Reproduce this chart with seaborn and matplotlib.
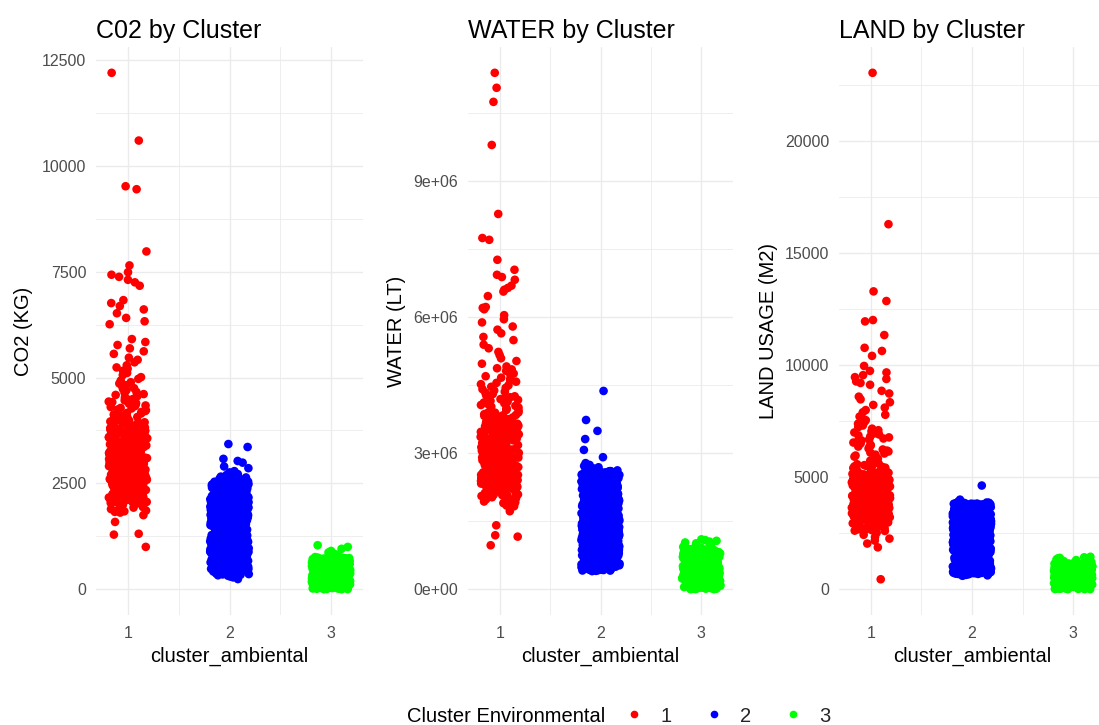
import numpy as np
import pandas as pd
import matplotlib
matplotlib.use("Agg")
import matplotlib.pyplot as plt
from matplotlib.ticker import FuncFormatter, MultipleLocator, FixedLocator
from matplotlib.lines import Line2D
import seaborn as sns

# ---------------- data (read/estimated from the reference) ----------------
clusters = ["1", "2", "3"]
cluster_colors = ["#FF0000", "#0000FF", "#00FF00"]
legend_title = "Cluster Environmental"
x_label = "cluster_ambiental"
panel_titles = ["C02 by Cluster", "WATER by Cluster", "LAND by Cluster"]
y_labels = ["CO2 (KG)", "WATER (LT)", "LAND USAGE (M2)"]

# CO2 (kg)
co2_c1 = [12200, 10600, 9520, 9450, 7980, 7650, 7490, 7430, 7380, 7310, 7250, 7170,
          6830, 6760, 6690, 6610, 6520, 6410, 6330, 6260,
          5910, 5840, 5770, 5690, 5620, 5560, 5470, 5420, 5360, 5290, 5240, 5210, 5160, 5110, 5060, 5010,
          4970, 4930, 4890, 4860, 4820, 4790, 4750, 4730, 4700, 4660, 4640, 4610, 4590, 4560, 4530, 4510,
          4496, 4475, 4461, 4433, 4419, 4398, 4386, 4357, 4341, 4326, 4304, 4283, 4271, 4246, 4228, 4209,
          4188, 4164, 4152, 4126, 4111, 4087, 4069, 4051, 4028, 4012,
          3994, 3983, 3966, 3955, 3941, 3929, 3912, 3903, 3886, 3873, 3861, 3846, 3832, 3821, 3807, 3795,
          3779, 3768, 3754, 3740, 3731, 3714, 3703, 3687, 3676, 3662, 3648, 3635, 3623, 3609, 3598, 3582,
          3573, 3557, 3546, 3539, 3526, 3518, 3507, 3501,
          3493, 3482, 3474, 3461, 3456, 3445, 3437, 3423, 3419, 3406, 3397, 3388, 3376, 3369, 3358, 3349,
          3336, 3330, 3317, 3308, 3296, 3290, 3277, 3267, 3258, 3249, 3236, 3227, 3218, 3209, 3197, 3188,
          3178, 3169, 3157, 3148, 3138, 3129, 3117, 3108, 3098, 3087, 3077, 3068, 3057, 3049, 3037, 3026,
          3017, 3006,
          2997, 2986, 2978, 2969, 2960, 2953, 2942, 2935, 2925, 2918, 2907, 2900, 2890, 2883, 2873, 2864,
          2855, 2848, 2837, 2830, 2820, 2813, 2802, 2795, 2785, 2778, 2768, 2759, 2750, 2743, 2732, 2725,
          2715, 2708, 2697, 2690, 2680, 2673, 2663, 2654, 2645, 2638, 2627, 2620, 2610, 2603, 2592, 2585,
          2575, 2568, 2558, 2549, 2540, 2531, 2515,
          2494, 2480, 2473, 2458, 2449, 2436, 2427, 2412, 2403, 2390, 2380, 2367, 2357, 2343, 2334, 2320,
          2310, 2297, 2288, 2273, 2264, 2250, 2240, 2227, 2217, 2203, 2194, 2180, 2170, 2157, 2147, 2133,
          2123, 2110, 2100, 2086, 2076, 2063, 2053, 2040, 2030, 2011,
          1992, 1975, 1959, 1940, 1928, 1908, 1894, 1875, 1859, 1841, 1827, 1810,
          1750, 1590, 1310, 1290, 1000,
          3985, 3962, 3944, 3921, 3905, 3884, 3863, 3846, 3822, 3804, 3786, 3763, 3745, 3724, 3702, 3688,
          3665, 3643, 3627, 3604, 3585, 3566, 3544, 3527, 3505, 3486, 3464, 3447, 3425, 3406, 3387, 3365,
          3346, 3326, 3305, 3288, 3266, 3245, 3228, 3206, 3185, 3167, 3146, 3128, 3104, 3087, 3066, 3048,
          3025, 3006, 2987, 2966, 2948, 2925, 2907, 2886, 2868, 2847, 2826, 2808, 2785, 2768, 2746, 2727,
          2706, 2688, 2665, 2647, 2628, 2605, 2588, 2565, 2548, 2527, 2506, 2487, 2466, 2448, 2425, 2406,
          2386, 2368, 2345, 2326, 2307, 2288, 2265, 2247, 2226, 2207, 2185, 2166, 2147, 2125, 2108, 2086,
          2067, 2046, 2028, 2009]
co2_c2 = [3430, 3360, 3080, 3030, 2990, 2900, 2860, 2790, 2760, 2720, 2700, 2680, 2660, 2640, 2630,
          2610, 2600, 2590, 2580, 2575, 2565,
          2552, 2544, 2539, 2531, 2526, 2518, 2511, 2505, 2497, 2492, 2483, 2478, 2470, 2464, 2459, 2450,
          2446, 2437, 2431, 2424, 2418, 2410, 2405, 2397, 2392, 2384, 2377, 2371, 2363, 2358, 2351, 2344,
          2339, 2330, 2325, 2317, 2311, 2305, 2297, 2290, 2285, 2277, 2272, 2263, 2258, 2250, 2243, 2238,
          2229, 2224, 2216, 2210, 2203, 2196, 2191, 2183, 2177, 2170, 2164, 2157, 2151, 2143, 2138, 2130,
          2124, 2117, 2110, 2104, 2097, 2091, 2083, 2078, 2070, 2063, 2057, 2050, 2044, 2037, 2031, 2023,
          2018, 2010, 2004, 1997, 1990, 1984, 1977, 1971, 1963, 1958, 1950, 1943, 1937, 1930, 1924, 1916,
          1911, 1903, 1897, 1890, 1884, 1876, 1871, 1863, 1857, 1850, 1844, 1836, 1831, 1823, 1817, 1810,
          1803, 1797, 1790, 1784, 1776, 1771, 1763, 1757, 1750, 1743, 1737, 1730, 1724, 1716, 1711, 1703,
          1696, 1690, 1683, 1677, 1670, 1663, 1657, 1650, 1644, 1636, 1631, 1623, 1617, 1610, 1603, 1597,
          1589, 1584, 1576, 1570, 1563, 1556, 1550, 1543, 1537, 1529, 1524, 1516, 1510, 1503, 1496, 1490,
          1483, 1477, 1469, 1464, 1456, 1450, 1443, 1436, 1430, 1423, 1417, 1409, 1404, 1396, 1390, 1383,
          1376, 1370, 1362, 1357, 1349, 1343, 1336, 1330, 1322, 1316, 1310, 1302, 1297, 1289, 1283, 1276,
          1270, 1262, 1256, 1249, 1242, 1236, 1229, 1223, 1215, 1210, 1202, 1196, 1189, 1182, 1176, 1169,
          1163, 1155, 1150, 1142, 1136, 1129, 1122, 1116, 1108, 1103, 1095, 1089, 1082, 1076, 1068, 1063,
          1055, 1049, 1042, 1035, 1029, 1021, 1016, 1008, 1002, 995, 988, 982, 974, 969, 961, 955,
          948, 942, 934, 929, 921, 915, 908, 901, 895, 887, 882, 874, 868, 861, 855, 848,
          841, 835, 827, 822, 814, 808, 801, 794, 788, 780, 775, 767, 761, 754, 748, 741,
          734, 728, 720, 715, 707, 701, 694, 688, 681, 674, 668, 660, 655, 647, 641, 634,
          627, 621, 613, 608, 600, 594, 587, 581, 574, 567, 561, 553, 548, 540, 534, 527,
          520, 514, 506, 501, 493, 487, 480, 474, 467, 460, 454, 446, 441, 433, 427, 420,
          414, 407, 400, 394, 388, 380, 372, 365, 358, 350, 341, 330, 318, 300, 280, 240,
          2555, 2549, 2542, 2536, 2529, 2523, 2516, 2510, 2503, 2497, 2490, 2484, 2477, 2471, 2464, 2458,
          2451, 2445, 2438, 2432, 2425, 2419, 2412, 2406, 2399, 2393, 2386, 2380, 2373, 2367, 2360, 2354,
          2347, 2341, 2334, 2328, 2321, 2315, 2308, 2302, 2295, 2289, 2282, 2276, 2269, 2263, 2256, 2250,
          2243, 2237, 2230, 2224, 2217, 2211, 2204, 2198, 2191, 2185, 2178, 2172, 2165, 2159, 2152, 2146,
          2139, 2133, 2126, 2120, 2113, 2107, 2100, 2094, 2087, 2081, 2074, 2068, 2061, 2055, 2048, 2042,
          2035, 2029, 2022, 2016, 2009, 2003, 1996, 1990, 1983, 1977, 1970, 1964, 1957, 1951, 1944, 1938,
          1931, 1925, 1918, 1912, 1905, 1899, 1892, 1886, 1879, 1873, 1866, 1860, 1853, 1847, 1840, 1834,
          1827, 1821, 1814, 1808, 1801, 1795, 1788, 1782, 1775, 1769, 1762, 1756, 1749, 1743, 1736, 1730,
          1723, 1717, 1710, 1704, 1697, 1691, 1684, 1678, 1671, 1665, 1658, 1652, 1645, 1639, 1632, 1626,
          1619, 1613, 1606, 1600, 1593, 1587, 1580, 1574, 1567, 1561, 1554, 1548, 1541, 1535, 1528, 1522,
          1515, 1509, 1502, 1496, 1489, 1483, 1476, 1470, 1463, 1457, 1450, 1444, 1437, 1431, 1424, 1418,
          1411, 1405, 1398, 1392, 1385, 1379, 1372, 1366, 1359, 1353, 1346, 1340, 1333, 1327, 1320, 1314,
          1307, 1301, 1294, 1288, 1281, 1275, 1268, 1262, 1255, 1249, 1242, 1236, 1229, 1223, 1216, 1210,
          1203, 1197, 1190, 1184, 1177, 1171, 1164, 1158, 1151, 1145, 1138, 1132, 1125, 1119, 1112, 1106,
          1099, 1093, 1086, 1080, 1073, 1067, 1060, 1054, 1047, 1041, 1034, 1028, 1021, 1015, 1008, 1002,
          995, 989, 982, 976, 969, 963, 956, 950, 943, 937, 930, 924, 917, 911, 904, 898,
          891, 885, 878, 872, 865, 859, 852, 846, 839, 833, 826, 820, 813, 807, 800, 794,
          787, 781, 774, 768, 761, 755, 748, 742, 735, 729, 722, 716, 709, 703, 696, 690,
          683, 677, 670, 664, 657, 651, 644, 638, 631, 625, 618, 612, 605, 599, 592, 586,
          579, 573, 566, 560, 553, 547, 540, 534, 527, 521, 514, 508, 501, 495, 488, 482,
          475, 469, 462, 456, 449, 443, 436, 430, 423, 417, 410]
co2_c3 = [1040, 1000, 955, 905, 870, 842, 815, 792, 771, 760,
          751, 746, 740, 736, 731, 725, 721, 716, 710, 706, 700, 695, 690, 686, 680, 676, 671, 665, 661, 655,
          650, 646, 641, 635, 631, 626, 620, 616, 611, 605, 601, 596, 590, 586, 581, 575, 571, 566, 560, 556,
          551, 545, 541, 536, 530, 526, 521, 515, 511, 506, 500, 496, 491, 485, 481, 476, 470, 466, 461, 455,
          450, 446, 441, 435, 431, 426, 420, 416, 411, 405, 401, 396, 390, 386, 381, 375, 371, 366, 360, 356,
          351, 345, 341, 336, 330, 326, 321, 315, 311, 306, 300, 296, 291, 285, 281, 276, 270, 266, 261, 255,
          250, 246, 241, 235, 231, 226, 220, 216, 211, 205, 201, 196, 190, 186, 181, 175, 171, 166, 160, 156,
          151, 145, 141, 136, 130, 126, 121, 115, 111, 106, 100, 96, 91, 85, 81, 76, 70, 66, 61, 55,
          50, 46, 41, 35, 31, 26, 20, 16, 11, 6, 3, 1,
          748, 743, 738, 733, 728, 723, 718, 713, 708, 703, 698, 693, 688, 683, 678, 673, 668, 663, 658, 653,
          648, 643, 638, 633, 628, 623, 618, 613, 608, 603, 598, 593, 588, 583, 578, 573, 568, 563, 558, 553,
          548, 543, 538, 533, 528, 523, 518, 513, 508, 503, 498, 493, 488, 483, 478, 473, 468, 463, 458, 453,
          448, 443, 438, 433, 428, 423, 418, 413, 408, 403, 398, 393, 388, 383, 378, 373, 368, 363, 358, 353,
          348, 343, 338, 333, 328, 323, 318, 313, 308, 303, 298, 293, 288, 283, 278, 273, 268, 263, 258, 253,
          248, 243, 238, 233, 228, 223, 218, 213, 208, 203, 198, 193, 188, 183, 178, 173, 168, 163, 158, 153,
          148, 143, 138, 133, 128, 123, 118, 113, 108, 103, 98, 93, 88, 83, 78, 73, 68, 63, 58, 53,
          48, 43, 38, 33, 28, 23, 18, 13, 8, 3]

# WATER (thousands of litres; converted to litres below)
water_c1_k = [11380, 11050, 10740, 9790, 8270, 7740, 7700, 7260, 7040, 6930, 6880, 6820, 6690, 6640,
              6600, 6560, 6460, 6220, 6200, 6170, 6040, 5950, 5880, 5790, 5720, 5640, 5560, 5490, 5390,
              5310, 5230, 5160, 5090, 5030, 4970, 4910,
              4870, 4845, 4812, 4786, 4753, 4721, 4694, 4662, 4633, 4601, 4574, 4548, 4519, 4493, 4462,
              4438, 4409, 4381, 4352, 4329, 4301, 4277, 4252, 4231, 4208,
              4190, 4173, 4151, 4134, 4116, 4097, 4080, 4061, 4042, 4024, 4006, 3987, 3968, 3951, 3933,
              3913, 3895, 3878, 3857, 3841, 3820, 3804, 3784, 3767, 3747, 3730, 3711,
              3696, 3683, 3670, 3660, 3646, 3636, 3622, 3612, 3598, 3588, 3574, 3564, 3550, 3540, 3526,
              3516, 3502, 3492, 3478, 3468, 3454, 3444, 3430, 3420, 3406, 3396, 3382, 3372, 3358, 3348,
              3334, 3324, 3310, 3300, 3286, 3276, 3262, 3252, 3238, 3228, 3214, 3204,
              3195, 3184, 3177, 3166, 3159, 3148, 3141, 3130, 3123, 3112, 3105, 3094, 3087, 3076, 3069,
              3058, 3051, 3040, 3033, 3022, 3015, 3004, 2997, 2986, 2979, 2968, 2961, 2950, 2943, 2932,
              2925, 2914, 2907, 2896, 2889, 2878, 2871, 2860, 2853, 2842, 2835, 2824, 2817, 2806, 2799,
              2788, 2781, 2770, 2763, 2752, 2745, 2734, 2727, 2716, 2709,
              2698, 2690, 2679, 2671, 2660, 2652, 2641, 2633, 2622, 2614, 2603, 2595, 2584, 2576, 2565,
              2557, 2546, 2538, 2527, 2519, 2508, 2500, 2489, 2481, 2470, 2462, 2451, 2443, 2432, 2424,
              2413, 2405, 2394, 2386, 2375, 2367, 2356, 2348, 2337, 2329, 2318, 2310, 2299, 2291, 2280,
              2272, 2261, 2253, 2242, 2234, 2223, 2212,
              2195, 2179, 2160, 2144, 2125, 2109, 2090, 2074, 2055, 2039, 2020, 2004, 1985, 1969, 1950,
              1934, 1915, 1899, 1880, 1864, 1845, 1829,
              1720, 1410, 1190, 1160, 970,
              3892, 3871, 3855, 3833, 3816, 3795, 3776, 3757, 3738, 3719, 3700, 3681, 3662, 3643, 3624, 3605,
              3586, 3567, 3548, 3529, 3510, 3491, 3472, 3453, 3434, 3415, 3396, 3377, 3358, 3339, 3320, 3301,
              3282, 3263, 3244, 3225, 3206, 3187, 3168, 3149, 3130, 3111, 3092, 3073, 3054, 3035, 3016, 2997,
              2978, 2959, 2940, 2921, 2902, 2883, 2864, 2845, 2826, 2807, 2788, 2769, 2750, 2731, 2712, 2693,
              2674, 2655, 2636, 2617, 2598, 2579, 2560, 2541, 2522, 2503, 2484, 2465, 2446, 2427, 2408, 2389,
              2370, 2351, 2332, 2313, 2294, 2275, 2256, 2237, 2218, 2199, 2180, 2161, 2142, 2123, 2104, 2085,
              2066, 2047, 2028, 2009]
water_c2_k = [4370, 3730, 3490, 3310, 3070, 2910, 2780, 2740, 2718, 2702, 2688, 2676, 2664, 2655, 2646,
              2637, 2629, 2620, 2613, 2607,
              2600, 2593, 2587, 2582, 2574, 2567, 2561, 2556, 2548, 2541, 2535, 2530, 2522, 2515, 2509, 2504,
              2496, 2489, 2483, 2478, 2470, 2463, 2457, 2452, 2444, 2437, 2431, 2426, 2418, 2411, 2405, 2400,
              2392, 2385, 2379, 2374, 2366, 2359, 2353, 2348, 2340, 2333, 2327, 2322, 2314, 2307, 2301, 2296,
              2288, 2281, 2275, 2270, 2262, 2255, 2249, 2244, 2236, 2229, 2223, 2218, 2210, 2203, 2197, 2192,
              2184, 2177, 2171, 2166, 2158, 2151, 2145, 2140, 2132, 2125, 2119, 2114, 2106, 2099, 2093, 2088,
              2080, 2073, 2067, 2062, 2054, 2047, 2041, 2036, 2028, 2021, 2015, 2010, 2002, 1995, 1989, 1984,
              1976, 1969, 1963, 1958, 1950, 1943, 1937, 1932, 1924, 1917, 1911, 1906, 1898, 1891, 1885, 1880,
              1872, 1865, 1859, 1854, 1846, 1839, 1833, 1828, 1820, 1813, 1807, 1802, 1794, 1787, 1781, 1776,
              1768, 1761, 1755, 1750, 1742, 1735, 1729, 1724, 1716, 1709, 1703, 1698, 1690, 1683, 1677, 1672,
              1664, 1657, 1651, 1646, 1638, 1631, 1625, 1620, 1612, 1605, 1599, 1594, 1586, 1579, 1573, 1568,
              1560, 1553, 1547, 1542, 1534, 1527, 1521, 1516, 1508, 1501, 1495, 1490, 1482, 1475, 1469, 1464,
              1456, 1449, 1443, 1438, 1430, 1423, 1417, 1412, 1404, 1397, 1391, 1386, 1378, 1371, 1365, 1360,
              1352, 1345, 1339, 1334, 1326, 1319, 1313, 1308, 1300, 1293, 1287, 1282, 1274, 1267, 1261, 1256,
              1248, 1241, 1235, 1230, 1222, 1215, 1209, 1204, 1196, 1189, 1183, 1178, 1170, 1163, 1157, 1152,
              1144, 1137, 1131, 1126, 1118, 1111, 1105, 1100, 1092, 1085, 1079, 1074, 1066, 1059, 1053, 1048,
              1040, 1033, 1027, 1022, 1014, 1007, 1001, 996, 988, 981, 975, 970, 962, 955, 949, 944,
              936, 929, 923, 918, 910, 903, 897, 892, 884, 877, 871, 866, 858, 851, 845, 840,
              832, 825, 819, 814, 806, 799, 793, 788, 780, 773, 767, 762, 754, 747, 741, 736,
              728, 721, 715, 710, 702, 695, 689, 684, 676, 669, 663, 658, 650, 643, 637, 632,
              624, 617, 611, 606, 598, 591, 585, 580, 572, 565, 559, 554, 546, 539, 533, 528,
              520, 513, 507, 502, 494, 487, 481, 476, 468, 461, 455, 450, 442, 435, 429, 424,
              418, 412, 406, 400,
              2604, 2598, 2591, 2585, 2578, 2572, 2565, 2559, 2552, 2546, 2539, 2533, 2526, 2520, 2513, 2507,
              2500, 2494, 2487, 2481, 2474, 2468, 2461, 2455, 2448, 2442, 2435, 2429, 2422, 2416, 2409, 2403,
              2396, 2390, 2383, 2377, 2370, 2364, 2357, 2351, 2344, 2338, 2331, 2325, 2318, 2312, 2305, 2299,
              2292, 2286, 2279, 2273, 2266, 2260, 2253, 2247, 2240, 2234, 2227, 2221, 2214, 2208, 2201, 2195,
              2188, 2182, 2175, 2169, 2162, 2156, 2149, 2143, 2136, 2130, 2123, 2117, 2110, 2104, 2097, 2091,
              2084, 2078, 2071, 2065, 2058, 2052, 2045, 2039, 2032, 2026, 2019, 2013, 2006, 2000, 1993, 1987,
              1980, 1974, 1967, 1961, 1954, 1948, 1941, 1935, 1928, 1922, 1915, 1909, 1902, 1896, 1889, 1883,
              1876, 1870, 1863, 1857, 1850, 1844, 1837, 1831, 1824, 1818, 1811, 1805, 1798, 1792, 1785, 1779,
              1772, 1766, 1759, 1753, 1746, 1740, 1733, 1727, 1720, 1714, 1707, 1701, 1694, 1688, 1681, 1675,
              1668, 1662, 1655, 1649, 1642, 1636, 1629, 1623, 1616, 1610, 1603, 1597, 1590, 1584, 1577, 1571,
              1564, 1558, 1551, 1545, 1538, 1532, 1525, 1519, 1512, 1506, 1499, 1493, 1486, 1480, 1473, 1467,
              1460, 1454, 1447, 1441, 1434, 1428, 1421, 1415, 1408, 1402, 1395, 1389, 1382, 1376, 1369, 1363,
              1356, 1350, 1343, 1337, 1330, 1324, 1317, 1311, 1304, 1298, 1291, 1285, 1278, 1272, 1265, 1259,
              1252, 1246, 1239, 1233, 1226, 1220, 1213, 1207, 1200, 1194, 1187, 1181, 1174, 1168, 1161, 1155,
              1148, 1142, 1135, 1129, 1122, 1116, 1109, 1103, 1096, 1090, 1083, 1077, 1070, 1064, 1057, 1051,
              1044, 1038, 1031, 1025, 1018, 1012, 1005, 999, 992, 986, 979, 973, 966, 960, 953, 947,
              940, 934, 927, 921, 914, 908, 901, 895, 888, 882, 875, 869, 862, 856, 849, 843,
              836, 830, 823, 817, 810, 804, 797, 791, 784, 778, 771, 765, 758, 752, 745, 739,
              732, 726, 719, 713, 706, 700, 693, 687, 680, 674, 667, 661, 654, 648, 641, 635,
              628, 622, 615, 609, 602, 596, 589, 583, 576, 570, 563, 557, 550, 544, 537, 531,
              524, 518, 511, 505, 498, 492, 485, 479, 472, 466, 459, 453, 446, 440, 433, 427,
              420, 414]
water_c3_k = [1100, 1085, 1068, 1050, 1031, 1012, 990, 972, 951, 933, 916,
              900, 894, 889, 882, 876, 871, 864, 858, 853, 846, 840, 835, 828, 822, 817, 810, 804, 799, 792, 786,
              780, 774, 769, 762, 756, 751, 744, 738, 733, 726, 720, 715, 708, 702, 697, 690, 684, 679, 672, 666,
              660, 654, 649, 642, 636, 631, 624, 618, 613, 606, 600, 595, 588, 582, 577, 570, 564, 559, 552, 546,
              540, 534, 529, 522, 516, 511, 504, 498, 493, 486, 480, 475, 468, 462, 457, 450, 444, 439, 432, 426,
              420, 414, 409, 402, 396, 391, 384, 378, 373, 366, 360, 355, 348, 342, 337, 330, 324, 319, 312, 306,
              300, 294, 289, 282, 276, 271, 264, 258, 253, 246, 240, 235, 228, 222, 217, 210, 204, 199, 192, 186,
              180, 174, 169, 162, 156, 151, 144, 138, 133, 126, 120, 115, 108, 102, 97, 90, 84, 79, 72, 66,
              60, 54, 49, 42, 36, 31, 24, 18, 13, 6, 2,
              897, 891, 885, 879, 873, 867, 861, 855, 849, 843, 837, 831, 825, 819, 813, 807, 801, 795, 789, 783,
              777, 771, 765, 759, 753, 747, 741, 735, 729, 723, 717, 711, 705, 699, 693, 687, 681, 675, 669, 663,
              657, 651, 645, 639, 633, 627, 621, 615, 609, 603, 597, 591, 585, 579, 573, 567, 561, 555, 549, 543,
              537, 531, 525, 519, 513, 507, 501, 495, 489, 483, 477, 471, 465, 459, 453, 447, 441, 435, 429, 423,
              417, 411, 405, 399, 393, 387, 381, 375, 369, 363, 357, 351, 345, 339, 333, 327, 321, 315, 309, 303,
              297, 291, 285, 279, 273, 267, 261, 255, 249, 243, 237, 231, 225, 219, 213, 207, 201, 195, 189, 183,
              177, 171, 165, 159, 153, 147, 141, 135, 129, 123, 117, 111, 105, 99, 93, 87, 81, 75, 69, 63,
              57, 51, 45, 39, 33, 27, 21, 15, 9, 3]

# LAND USAGE (m2)
land_c1 = [23060, 16300, 13300, 12870, 12020, 11960, 11350, 10780, 10640, 10420, 9970, 9750, 9680,
           9560, 9470, 9390, 9280, 9210, 9130, 8860, 8740, 8600, 8480, 8350, 8230, 8110, 8000, 7900,
           7790, 7710, 7630, 7550, 7470, 7390, 7310, 7240, 7170, 7100,
           7050, 7000, 6960, 6910, 6870, 6820, 6780, 6730, 6690, 6640, 6600, 6550, 6510, 6460, 6420,
           6370, 6330, 6280, 6240, 6190, 6150, 6100, 6060, 6010, 5970, 5920, 5880, 5830, 5790, 5740,
           5700, 5650, 5610, 5580,
           5562, 5541, 5523, 5504, 5487, 5466, 5449, 5428, 5411, 5390, 5373, 5352, 5335, 5314, 5297,
           5276, 5259, 5238, 5221, 5200, 5183, 5162, 5145, 5124, 5107, 5086, 5069, 5048, 5031, 5010,
           4993, 4982, 4970, 4961, 4948, 4939, 4926, 4917, 4904, 4895, 4882, 4873, 4860, 4851, 4838,
           4829, 4816, 4807, 4794, 4785, 4772, 4763, 4750, 4741, 4728, 4719, 4706, 4697, 4684, 4675,
           4662, 4653, 4640, 4631, 4618, 4609, 4596, 4587, 4574, 4565, 4552, 4543, 4530, 4521, 4508,
           4499, 4486, 4477, 4464, 4455, 4442, 4433, 4420, 4411,
           4398, 4389, 4378, 4369, 4358, 4349, 4338, 4329, 4318, 4309, 4298, 4289, 4278, 4269, 4258,
           4249, 4238, 4229, 4218, 4209, 4198, 4189, 4178, 4169, 4158, 4149, 4138, 4129, 4118, 4109,
           4098, 4089, 4078, 4069, 4058, 4049, 4038, 4029, 4018, 4009, 3998, 3989, 3978, 3969, 3958,
           3949, 3938, 3929, 3918, 3909, 3898, 3889, 3878, 3869, 3858, 3849, 3838, 3829, 3818, 3809,
           3797, 3785, 3772, 3761, 3748, 3737, 3724, 3713, 3700, 3689, 3676, 3665, 3652, 3641, 3628,
           3617, 3604, 3593, 3580, 3569, 3556, 3545, 3532, 3521, 3508, 3497, 3484, 3473, 3460, 3449,
           3436, 3425, 3412, 3401, 3388, 3377, 3364, 3353, 3340, 3329, 3316, 3305, 3292, 3281, 3268,
           3257, 3244, 3233, 3220, 3209,
           3190, 3171, 3149, 3130, 3108, 3089, 3067, 3048, 3026, 3007, 2985, 2966, 2944, 2925, 2903,
           2884, 2862, 2843, 2821, 2802, 2780, 2761, 2739, 2720, 2698, 2679, 2657, 2638, 2616, 2602,
           2520, 2430, 2330, 2260, 2170, 2040, 1870, 445,
           5195, 5173, 5151, 5129, 5107, 5085, 5063, 5041, 5019, 4997, 4975, 4953, 4931, 4909, 4887, 4865,
           4843, 4821, 4799, 4777, 4755, 4733, 4711, 4689, 4667, 4645, 4623, 4601, 4579, 4557, 4535, 4513,
           4491, 4469, 4447, 4425, 4403, 4381, 4359, 4337, 4315, 4293, 4271, 4249, 4227, 4205, 4183, 4161,
           4139, 4117, 4095, 4073, 4051, 4029, 4007, 3985, 3963, 3941, 3919, 3897, 3875, 3853, 3831, 3809,
           3787, 3765, 3743, 3721, 3699, 3677, 3655, 3633, 3611, 3589, 3567, 3545, 3523, 3501, 3479, 3457,
           3435, 3413, 3391, 3369, 3347, 3325, 3303, 3281, 3259, 3237, 3215, 3193, 3171, 3149, 3127, 3105,
           3083, 3061, 3039, 3017]
land_c2 = [4630, 4000, 3900, 3882, 3871, 3860, 3851, 3845, 3838,
           3830, 3819, 3809, 3797, 3787, 3775, 3765, 3753, 3743, 3731, 3721, 3709, 3699, 3687, 3677, 3665,
           3655, 3643, 3633, 3621,
           3610, 3599, 3589, 3577, 3567, 3555, 3545, 3533, 3523, 3511, 3501, 3489, 3479, 3467, 3457, 3445,
           3435, 3423, 3413, 3401,
           3390, 3379, 3369, 3357, 3347, 3335, 3325, 3313, 3303, 3291, 3281, 3269, 3259, 3247, 3237, 3225,
           3215, 3203, 3193, 3181,
           3170, 3159, 3149, 3137, 3127, 3115, 3105, 3093, 3083, 3071, 3061, 3049, 3039, 3027, 3017, 3005,
           2995, 2983, 2973, 2961,
           2950, 2939, 2929, 2917, 2907, 2895, 2885, 2873, 2863, 2851, 2841, 2829, 2819, 2807, 2797, 2785,
           2775, 2763, 2753, 2741,
           2730, 2719, 2709, 2697, 2687, 2675, 2665, 2653, 2643, 2631, 2621, 2609, 2599, 2587, 2577, 2565,
           2555, 2543, 2533, 2521,
           2510, 2499, 2489, 2477, 2467, 2455, 2445, 2433, 2423, 2411, 2401, 2389, 2379, 2367, 2357, 2345,
           2335, 2323, 2313, 2301,
           2290, 2279, 2269, 2257, 2247, 2235, 2225, 2213, 2203, 2191, 2181, 2169, 2159, 2147, 2137, 2125,
           2115, 2103, 2093, 2081,
           2070, 2059, 2049, 2037, 2027, 2015, 2005, 1993, 1983, 1971, 1961, 1949, 1939, 1927, 1917, 1905,
           1895, 1883, 1873, 1861,
           1850, 1839, 1829, 1817, 1807, 1795, 1785, 1773, 1763, 1751, 1741, 1729, 1719, 1707, 1697, 1685,
           1675, 1663, 1653, 1641,
           1630, 1619, 1609, 1597, 1587, 1575, 1565, 1553, 1543, 1531, 1521, 1509, 1499, 1487, 1477, 1465,
           1455, 1443, 1433, 1421,
           1410, 1399, 1389, 1377, 1367, 1355, 1345, 1333, 1323, 1311, 1301, 1289, 1279, 1267, 1257, 1245,
           1235, 1223, 1213, 1201,
           1190, 1179, 1169, 1157, 1147, 1135, 1125, 1113, 1103, 1091, 1081, 1069, 1059, 1047, 1037, 1025,
           1015, 1003, 993, 981,
           970, 959, 949, 937, 927, 915, 905, 893, 883, 871, 861, 849, 839, 827, 817, 805,
           795, 783, 773, 761,
           750, 739, 729, 717, 707, 695, 684, 673, 660, 640, 620, 600,
           3825, 3814, 3803, 3792, 3781, 3770, 3759, 3748, 3737, 3726, 3715, 3704, 3693, 3682, 3671, 3660,
           3649, 3638, 3627, 3616, 3605, 3594, 3583, 3572, 3561, 3550, 3539, 3528, 3517, 3506, 3495, 3484,
           3473, 3462, 3451, 3440, 3429, 3418, 3407, 3396, 3385, 3374, 3363, 3352, 3341, 3330, 3319, 3308,
           3297, 3286, 3275, 3264, 3253, 3242, 3231, 3220, 3209, 3198, 3187, 3176, 3165, 3154, 3143, 3132,
           3121, 3110, 3099, 3088, 3077, 3066, 3055, 3044, 3033, 3022, 3011, 3000, 2989, 2978, 2967, 2956,
           2945, 2934, 2923, 2912, 2901, 2890, 2879, 2868, 2857, 2846, 2835, 2824, 2813, 2802, 2791, 2780,
           2769, 2758, 2747, 2736, 2725, 2714, 2703, 2692, 2681, 2670, 2659, 2648, 2637, 2626, 2615, 2604,
           2593, 2582, 2571, 2560, 2549, 2538, 2527, 2516, 2505, 2494, 2483, 2472, 2461, 2450, 2439, 2428,
           2417, 2406, 2395, 2384, 2373, 2362, 2351, 2340, 2329, 2318, 2307, 2296, 2285, 2274, 2263, 2252,
           2241, 2230, 2219, 2208, 2197, 2186, 2175, 2164, 2153, 2142, 2131, 2120, 2109, 2098, 2087, 2076,
           2065, 2054, 2043, 2032, 2021, 2010, 1999, 1988, 1977, 1966, 1955, 1944, 1933, 1922, 1911, 1900,
           1889, 1878, 1867, 1856, 1845, 1834, 1823, 1812, 1801, 1790, 1779, 1768, 1757, 1746, 1735, 1724,
           1713, 1702, 1691, 1680, 1669, 1658, 1647, 1636, 1625, 1614, 1603, 1592, 1581, 1570, 1559, 1548,
           1537, 1526, 1515, 1504, 1493, 1482, 1471, 1460, 1449, 1438, 1427, 1416, 1405, 1394, 1383, 1372,
           1361, 1350, 1339, 1328, 1317, 1306, 1295, 1284, 1273, 1262, 1251, 1240, 1229, 1218, 1207, 1196,
           1185, 1174, 1163, 1152, 1141, 1130, 1119, 1108, 1097, 1086, 1075, 1064, 1053, 1042, 1031, 1020,
           1009, 998, 987, 976, 965, 954, 943, 932, 921, 910, 899, 888, 877, 866, 855, 844,
           833, 822, 811, 800, 789, 778, 767, 756, 745, 734, 723, 712, 701, 690, 680]
land_c3 = [1450, 1425, 1400, 1378, 1330, 1302, 1262, 1221, 1190,
           1160, 1150, 1141, 1130, 1121, 1110, 1101, 1090, 1081, 1070, 1061, 1050, 1041, 1030, 1021, 1010,
           1001, 990, 981, 970,
           960, 950, 941, 930, 921, 910, 901, 890, 881, 870, 861, 850, 841, 830, 821, 810, 801, 790, 781, 770,
           760, 750, 741, 730, 721, 710, 701, 690, 681, 670, 661, 650, 641, 630, 621, 610, 601, 590, 581, 570,
           560, 550, 541, 530, 521, 510, 501, 490, 481, 470, 461, 450, 441, 430, 421, 410, 401, 390, 381, 370,
           360, 350, 341, 330, 321, 310, 301, 290, 281, 270, 261, 250, 241, 230, 221, 210, 201, 190, 181, 170,
           160, 150, 141, 130, 121, 110, 101, 90, 81, 70, 61, 50, 41, 30, 21, 10, 5, 2,
           1155, 1145, 1135, 1125, 1115, 1105, 1095, 1085, 1075, 1065, 1055, 1045, 1035, 1025, 1015, 1005,
           995, 985, 975, 965, 955, 945, 935, 925, 915, 905, 895, 885, 875, 865, 855, 845,
           835, 825, 815, 805, 795, 785, 775, 765, 755, 745, 735, 725, 715, 705, 695, 685,
           675, 665, 655, 645, 635, 625, 615, 605, 595, 585, 575, 565, 555, 545, 535, 525,
           515, 505, 495, 485, 475, 465, 455, 445, 435, 425, 415, 405, 395, 385, 375, 365,
           355, 345, 335, 325, 315, 305, 295, 285, 275, 265, 255, 245, 235, 225, 215, 205,
           195, 185, 175, 165, 155, 145, 135, 125, 115, 105, 95, 85, 75, 65, 55, 45,
           35, 25, 15, 5]


def make_frame(c1, c2, c3, scale=1.0):
    values = list(c1) + list(c2) + list(c3)
    labels = [clusters[0]] * len(c1) + [clusters[1]] * len(c2) + [clusters[2]] * len(c3)
    return pd.DataFrame({"cluster": labels, "value": np.asarray(values, dtype=float) * scale})


frames = [
    make_frame(co2_c1, co2_c2, co2_c3),
    make_frame(water_c1_k, water_c2_k, water_c3_k, scale=1000.0),
    make_frame(land_c1, land_c2, land_c3),
]
y_steps = [2500, 3e6, 5000]

# ---------------- styling ----------------
sns.set_theme(style="white")
plt.rcParams["font.family"] = ["Liberation Sans", "DejaVu Sans"]

W, H = 1099, 725
fig = plt.figure(figsize=(W / 100, H / 100), dpi=100)
fig.patch.set_facecolor("white")

boxes = [(96, 363), (468, 733), (839, 1105)]
top_px, bot_px = 47, 615
ylabel_x = [-0.236, -0.234, -0.229]
palette = dict(zip(clusters, cluster_colors))

np.random.seed(7)
for i, (df, (l, r)) in enumerate(zip(frames, boxes)):
    ax = fig.add_axes([l / W, (H - bot_px) / H, (r - l) / W, (bot_px - top_px) / H])
    sns.stripplot(data=df, x="cluster", y="value", hue="cluster", order=clusters,
                  hue_order=clusters, palette=palette, jitter=0.19, size=6.2,
                  linewidth=0, legend=False, ax=ax)
    lo, hi = df["value"].min(), df["value"].max()
    pad = 0.05 * (hi - lo)
    ax.set_ylim(lo - pad, hi + pad)
    ax.set_xlim(-0.315, 2.315)
    ax.yaxis.set_major_locator(MultipleLocator(y_steps[i]))
    ax.yaxis.set_minor_locator(MultipleLocator(y_steps[i] / 2))
    ax.xaxis.set_minor_locator(FixedLocator([0.5, 1.5]))
    if i == 1:
        ax.yaxis.set_major_formatter(FuncFormatter(lambda v, p: f"{v:.0e}"))
    else:
        ax.yaxis.set_major_formatter(FuncFormatter(lambda v, p: f"{v:.0f}"))
    ax.set_axisbelow(True)
    ax.grid(True, which="major", axis="both", color="#EBEBEB", linewidth=1.0)
    ax.grid(True, which="minor", axis="both", color="#EBEBEB", linewidth=0.6)
    for s in ax.spines.values():
        s.set_visible(False)
    ax.tick_params(which="both", length=0)
    ax.tick_params(axis="y", labelsize=11.5, labelcolor="#4D4D4D", pad=7)
    ax.tick_params(axis="x", labelsize=11.5, labelcolor="#4D4D4D", pad=8)
    ax.set_title(panel_titles[i], loc="left", fontsize=18, pad=6.5, color="black")
    ax.set_ylabel(y_labels[i], fontsize=14.5, color="black")
    ax.yaxis.set_label_coords(ylabel_x[i], 0.5)
    ax.set_xlabel(x_label, fontsize=14.5, color="black")
    ax.xaxis.set_label_coords(0.5, -0.056)
    ax.set_facecolor("white")

# legend at the bottom
fig.text(407 / W, (H - 722) / H, legend_title, fontsize=14.5, ha="left", va="baseline", color="black")
handles = [Line2D([], [], marker="o", linestyle="", color=c, markersize=5.5, markeredgewidth=0)
           for c in cluster_colors]
fig.legend(handles, clusters, loc="center left", bbox_to_anchor=(624 / W, (H - 716) / H),
           ncol=3, frameon=False, fontsize=14.5, handlelength=1.0, handletextpad=0.8,
           columnspacing=1.6, borderpad=0, borderaxespad=0)

fig.savefig("out.png", dpi=100, facecolor="white")
